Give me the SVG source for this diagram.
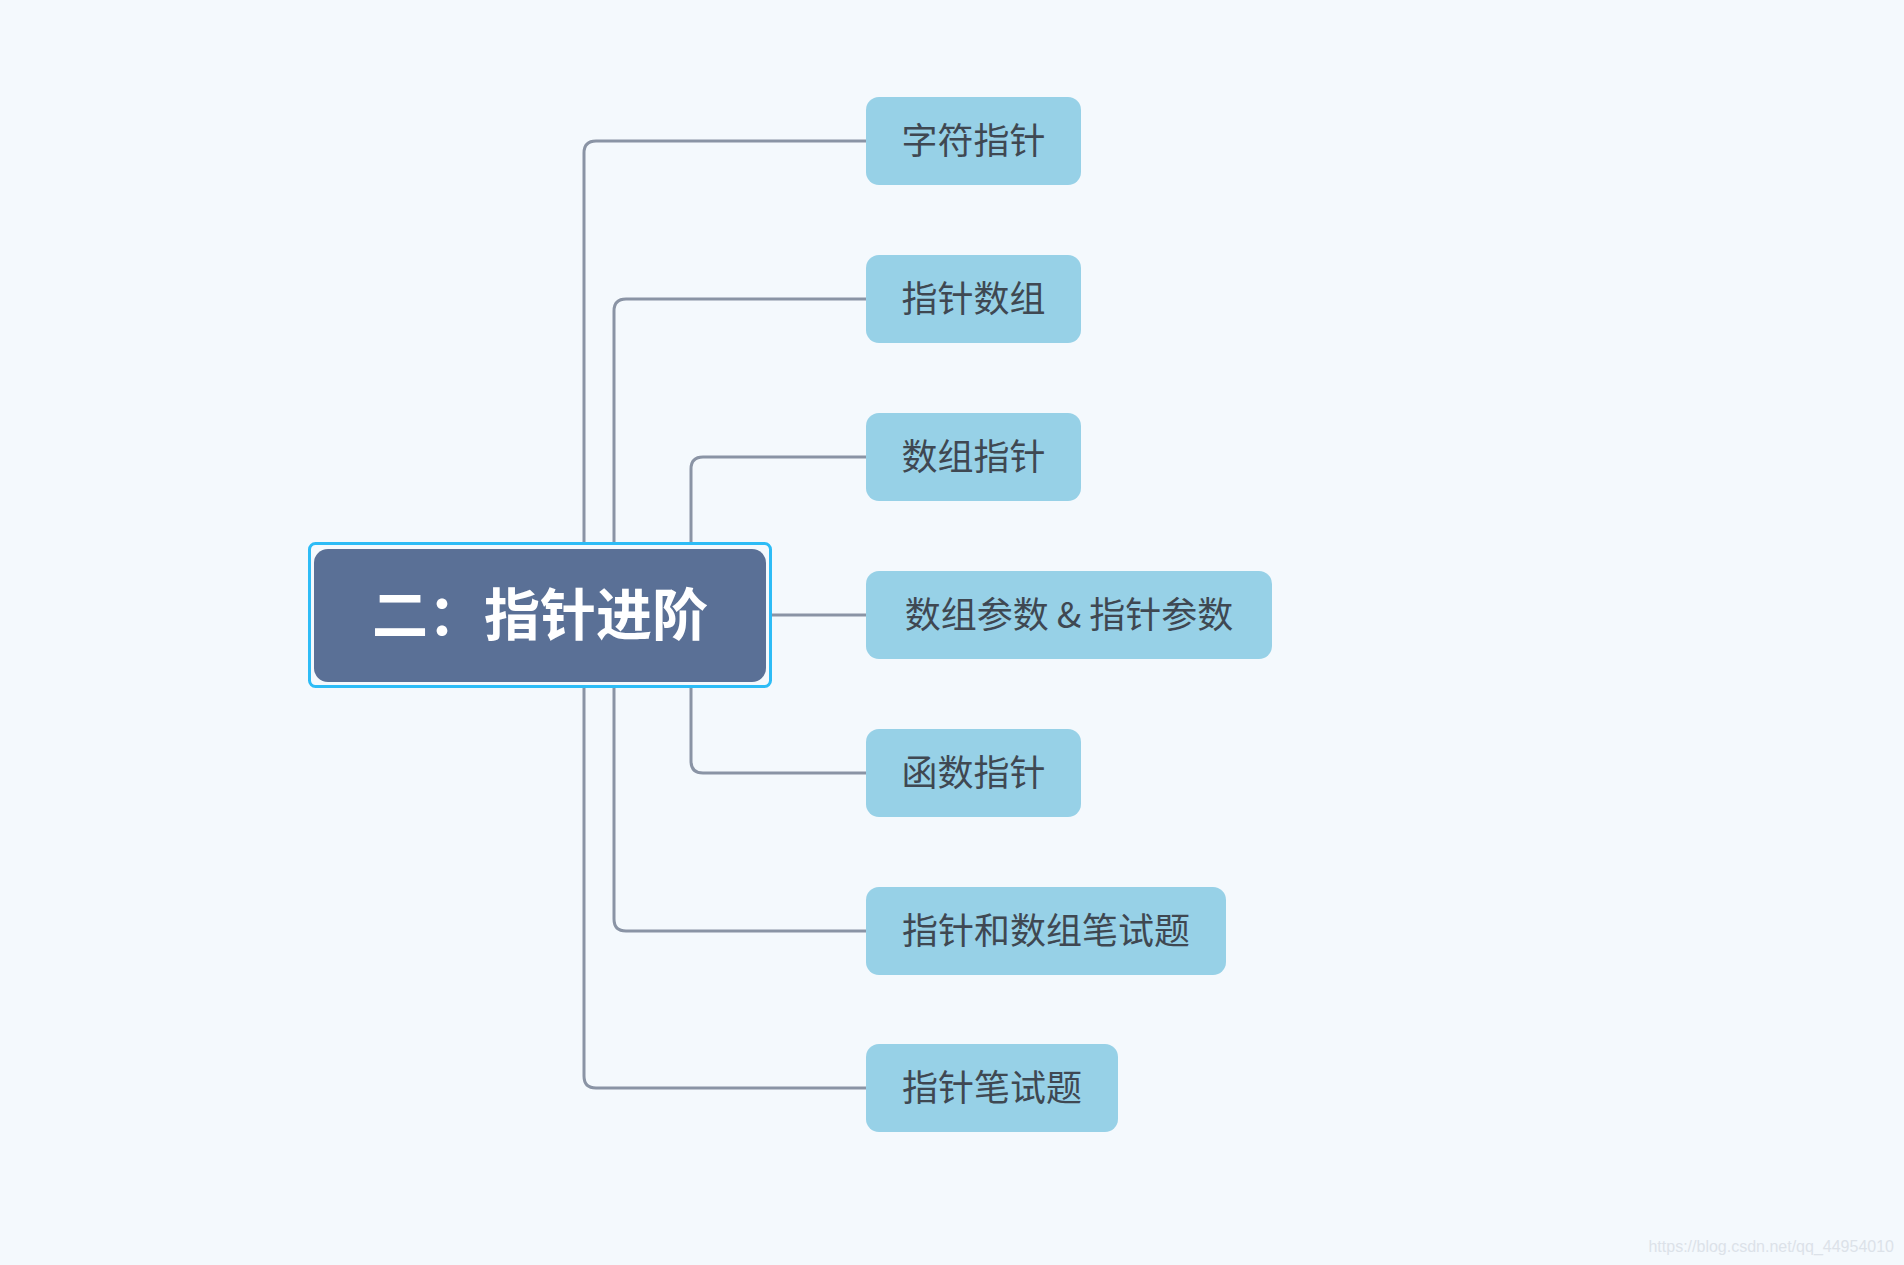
<svg xmlns="http://www.w3.org/2000/svg" width="1904" height="1265" viewBox="0 0 1904 1265">
  <style>
    .bg { fill: #F4F9FD; }
    .conn { fill: none; stroke: #8A94A5; stroke-width: 3; }
    .child rect { fill: #97D1E7; }
    .child text { font-family: "Noto Sans CJK SC", "Liberation Sans", sans-serif; font-size: 36px; fill: #3F4852; text-anchor: middle; }
    .root text { font-family: "Noto Sans CJK SC", "Liberation Sans", sans-serif; font-size: 56px; font-weight: bold; fill: #FFFFFF; text-anchor: middle; }
    .wm { font-family: "Liberation Sans", Arial, sans-serif; font-size: 16px; fill: #DCE2E9; text-anchor: end; }
  </style>
  <rect class="bg" x="0" y="0" width="1904" height="1265"/>

  <g id="connectors">
    <path class="conn" d="M584,615 V153 Q584,141 596,141 H866"/>
    <path class="conn" d="M614,615 V311 Q614,299 626,299 H866"/>
    <path class="conn" d="M691,615 V469 Q691,457 703,457 H866"/>
    <path class="conn" d="M766,615 H866"/>
    <path class="conn" d="M691,615 V761 Q691,773 703,773 H866"/>
    <path class="conn" d="M614,615 V919 Q614,931 626,931 H866"/>
    <path class="conn" d="M584,615 V1076 Q584,1088 596,1088 H866"/>
  </g>

  <g id="root" class="root">
    <rect x="309.5" y="543.5" width="461" height="143" rx="6" fill="#F4F9FD" stroke="#2DBCF6" stroke-width="3"/>
    <rect x="314" y="549" width="452" height="133" rx="14" fill="#5A7096"/>
    <text x="540" y="635">二：指针进阶</text>
  </g>

  <g id="n1" class="child">
    <rect x="866" y="97" width="215" height="88" rx="13"/>
    <text x="973.5" y="154">字符指针</text>
  </g>
  <g id="n2" class="child">
    <rect x="866" y="255" width="215" height="88" rx="13"/>
    <text x="973.5" y="312">指针数组</text>
  </g>
  <g id="n3" class="child">
    <rect x="866" y="413" width="215" height="88" rx="13"/>
    <text x="973.5" y="470">数组指针</text>
  </g>
  <g id="n4" class="child">
    <rect x="866" y="571" width="406" height="88" rx="13"/>
    <text x="1069" y="628">数组参数 &amp; 指针参数</text>
  </g>
  <g id="n5" class="child">
    <rect x="866" y="729" width="215" height="88" rx="13"/>
    <text x="973.5" y="786">函数指针</text>
  </g>
  <g id="n6" class="child">
    <rect x="866" y="887" width="360" height="88" rx="13"/>
    <text x="1046" y="944">指针和数组笔试题</text>
  </g>
  <g id="n7" class="child">
    <rect x="866" y="1044" width="252" height="88" rx="13"/>
    <text x="992" y="1101">指针笔试题</text>
  </g>

  <text class="wm" x="1894" y="1252">https://blog.csdn.net/qq_44954010</text>
</svg>
